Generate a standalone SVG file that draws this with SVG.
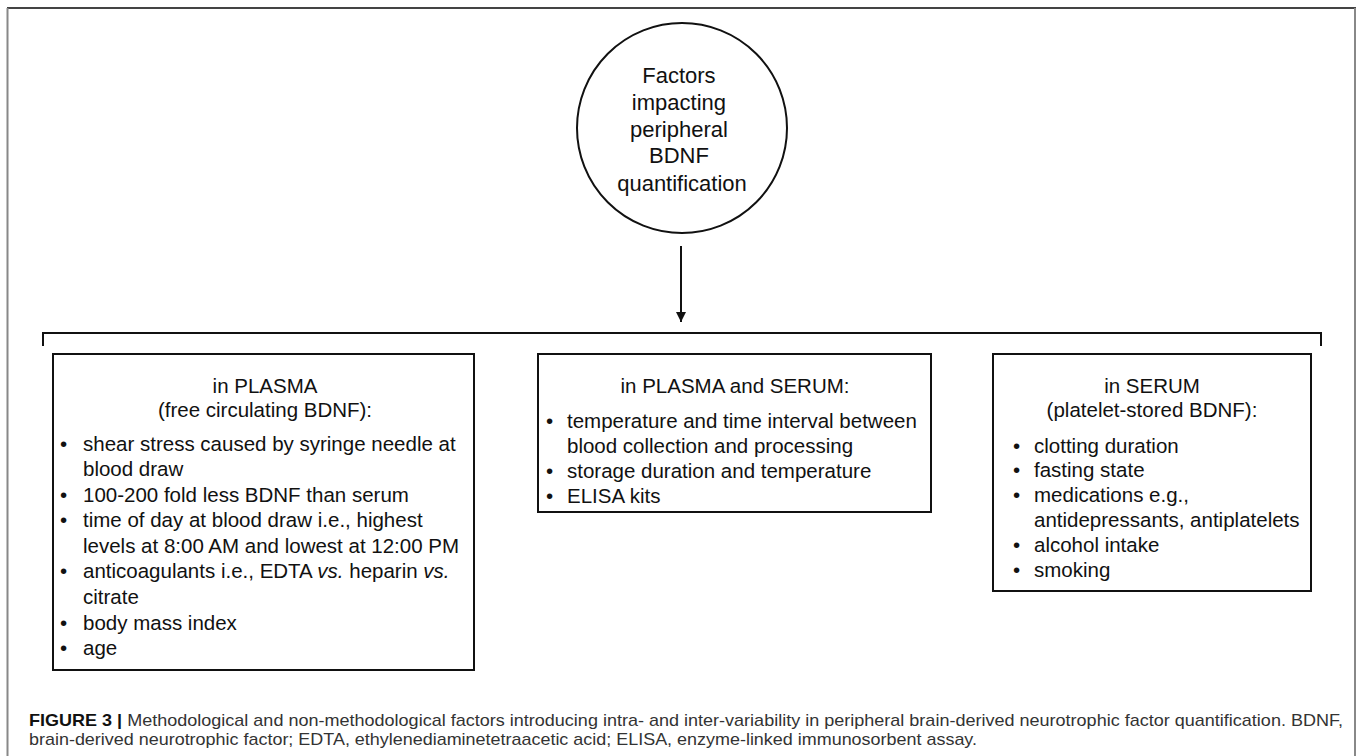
<svg xmlns="http://www.w3.org/2000/svg" width="1358" height="756" viewBox="0 0 1358 756">
<defs>
<style>
.t{font-family:"Liberation Sans",Arial,sans-serif;font-size:20.5px;fill:#111}
.c{text-anchor:middle}
.box{fill:#fff;stroke:#111;stroke-width:2}
.cap{font-family:"Liberation Sans",Arial,sans-serif;font-size:17px;fill:#333}
</style>
<marker id="ah" viewBox="0 0 10 10" refX="10" refY="5" markerWidth="5" markerHeight="5" orient="auto" markerUnits="strokeWidth">
<path d="M0,0 L10,5 L0,10 z" fill="#111"/>
</marker>
</defs>
<rect width="1358" height="756" fill="#fff"/>
<g id="frame" fill="none">
<line x1="7" y1="8" x2="1356" y2="8" stroke="#444" stroke-width="2"/>
<line x1="7.5" y1="8" x2="7.5" y2="756" stroke="#888" stroke-width="2"/>
<line x1="1355" y1="8" x2="1355" y2="756" stroke="#888" stroke-width="2"/>
</g>
<g id="connectors" fill="none" stroke="#111" stroke-width="2">
<line x1="681" y1="246" x2="681" y2="322" marker-end="url(#ah)"/>
<path d="M43,346 V333 H1321 V346"/>
</g>
<g id="root">
<circle cx="682" cy="128" r="105" fill="#fff" stroke="#111" stroke-width="2"/>
<text class="t c" x="682" style="font-size:22px">
<tspan x="682" y="83">Factors</tspan>
<tspan x="682" y="110">impacting</tspan>
<tspan x="682" y="137">peripheral</tspan>
<tspan x="682" y="163">BDNF</tspan>
<tspan x="682" y="191">quantification</tspan>
</text>
</g>
<g id="plasma">
<rect class="box" x="53" y="354" width="421" height="316"/>
<text class="t c" x="265" y="393">in PLASMA</text>
<text class="t c" x="265" y="417">(free circulating BDNF):</text>
<g class="t">
<text x="60" y="451">•</text><text x="83" y="451">shear stress caused by syringe needle at</text>
<text x="83" y="476">blood draw</text>
<text x="60" y="502">•</text><text x="83" y="502">100-200 fold less BDNF than serum</text>
<text x="60" y="527">•</text><text x="83" y="527">time of day at blood draw i.e., highest</text>
<text x="83" y="553">levels at 8:00 AM and lowest at 12:00 PM</text>
<text x="60" y="578">•</text><text x="83" y="578">anticoagulants i.e., EDTA <tspan font-style="italic">vs.</tspan> heparin <tspan font-style="italic">vs.</tspan></text>
<text x="83" y="604">citrate</text>
<text x="60" y="630">•</text><text x="83" y="630">body mass index</text>
<text x="60" y="655">•</text><text x="83" y="655">age</text>
</g>
</g>
<g id="both">
<rect class="box" x="538" y="354" width="393" height="158"/>
<text class="t c" x="735" y="393">in PLASMA and SERUM:</text>
<g class="t">
<text x="546" y="428">•</text><text x="567" y="428">temperature and time interval between</text>
<text x="567" y="453">blood collection and processing</text>
<text x="546" y="478">•</text><text x="567" y="478">storage duration and temperature</text>
<text x="546" y="503">•</text><text x="567" y="503">ELISA kits</text>
</g>
</g>
<g id="serum">
<rect class="box" x="993" y="354" width="318" height="237"/>
<text class="t c" x="1152" y="393">in SERUM</text>
<text class="t c" x="1152" y="417">(platelet-stored BDNF):</text>
<g class="t">
<text x="1013" y="453">•</text><text x="1034" y="453">clotting duration</text>
<text x="1013" y="477">•</text><text x="1034" y="477">fasting state</text>
<text x="1013" y="502">•</text><text x="1034" y="502">medications e.g.,</text>
<text x="1034" y="527">antidepressants, antiplatelets</text>
<text x="1013" y="552">•</text><text x="1034" y="552">alcohol intake</text>
<text x="1013" y="577">•</text><text x="1034" y="577">smoking</text>
</g>
</g>
<g id="caption">
<text class="cap" x="29" y="726" textLength="1314" lengthAdjust="spacingAndGlyphs"><tspan font-weight="bold" fill="#111">FIGURE 3 |</tspan> Methodological and non-methodological factors introducing intra- and inter-variability in peripheral brain-derived neurotrophic factor quantification. BDNF,</text>
<text class="cap" x="29" y="745" textLength="948" lengthAdjust="spacingAndGlyphs">brain-derived neurotrophic factor; EDTA, ethylenediaminetetraacetic acid; ELISA, enzyme-linked immunosorbent assay.</text>
</g>
</svg>
